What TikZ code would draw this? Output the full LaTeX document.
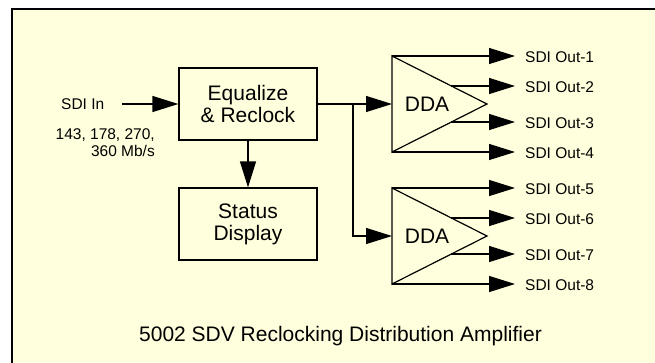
\documentclass[tikz,border=0pt]{standalone}
\usepackage{fontspec}
\setmainfont{Liberation Sans}
\usetikzlibrary{arrows.meta,calc}
\definecolor{bgyellow}{RGB}{255,255,221}
\tikzset{
 arr/.style={-{Triangle[length=26pt,width=16pt]}, line width=1.2pt},
 big/.style={font=\fontsize{21}{22}\selectfont},
 small/.style={font=\fontsize{15.5}{17}\selectfont},
 blk/.style={draw, line width=1.2pt, minimum width=138pt, minimum height=72pt, align=center, big, inner sep=0pt},
 outlbl/.style={small, anchor=base west, inner xsep=10pt, inner ysep=2pt},
 tri/.style={draw, line width=1.2pt, line join=miter},
}
\begin{document}
\begin{tikzpicture}[x=1pt,y=-1pt]
\useasboundingbox (0,0) rectangle (655,362);
\fill[bgyellow] (12,9) rectangle (670,375);
\draw[line width=1.8pt] (670,9) -- (12,9) -- (12,375);

% input
\node[small, anchor=base west, inner sep=0pt] (sdiin) at (61,109) {SDI In};
\node[small, anchor=east, align=right, inner sep=0pt] (rates) at (155,143) {143, 178, 270,\\360 Mb/s};
\coordinate (inA) at (122,104);

% blocks
\node[blk] (eq) at (248,104) {Equalize\\\& Reclock};
\node[blk] (st) at (248,224) {Status\\Display};

\draw[arr] (inA) -- (eq.west);
\draw[arr] (eq.south) -- (st.north);

% DDA 1
\coordinate (d1tl) at (392,56);
\coordinate (d1bl) at (392,152);
\coordinate (d1ap) at (487,104);
\coordinate (d1in) at (392,104);
\draw[tri] (d1tl) -- (d1ap) -- (d1bl) -- cycle;
\node[big, inner sep=0pt] (dda1) at (427,104) {DDA};

% DDA 2
\coordinate (d2tl) at (392,188);
\coordinate (d2bl) at (392,284);
\coordinate (d2ap) at (487,236);
\coordinate (d2in) at (392,236);
\draw[tri] (d2tl) -- (d2ap) -- (d2bl) -- cycle;
\node[big, inner sep=0pt] (dda2) at (427,236) {DDA};

% splitter
\coordinate (junc) at (353,104);
\draw[arr] (eq.east) -- (d1in);
\draw[arr] (junc) |- (d2in);

% output labels
\node[outlbl] (o1) at (515,62) {SDI Out-1};
\node[outlbl] (o2) at (515,92) {SDI Out-2};
\node[outlbl] (o3) at (515,128) {SDI Out-3};
\node[outlbl] (o4) at (515,158) {SDI Out-4};
\node[outlbl] (o5) at (515,194) {SDI Out-5};
\node[outlbl] (o6) at (515,224) {SDI Out-6};
\node[outlbl] (o7) at (515,260) {SDI Out-7};
\node[outlbl] (o8) at (515,290) {SDI Out-8};

\coordinate (d1e2) at ($(d1tl)!0.625!(d1ap)$);
\coordinate (d1e3) at ($(d1bl)!0.625!(d1ap)$);
\coordinate (d2e2) at ($(d2tl)!0.625!(d2ap)$);
\coordinate (d2e3) at ($(d2bl)!0.625!(d2ap)$);

\draw[arr] (d1tl) -- (d1tl -| o1.west);
\draw[arr] (d1e2) -- (d1e2 -| o2.west);
\draw[arr] (d1e3) -- (d1e3 -| o3.west);
\draw[arr] (d1bl) -- (d1bl -| o4.west);
\draw[arr] (d2tl) -- (d2tl -| o5.west);
\draw[arr] (d2e2) -- (d2e2 -| o6.west);
\draw[arr] (d2e3) -- (d2e3 -| o7.west);
\draw[arr] (d2bl) -- (d2bl -| o8.west);

% title
\node[big, anchor=base, inner sep=0pt] (title) at (340.5,341) {5002 SDV Reclocking Distribution Amplifier};
\end{tikzpicture}
\end{document}
